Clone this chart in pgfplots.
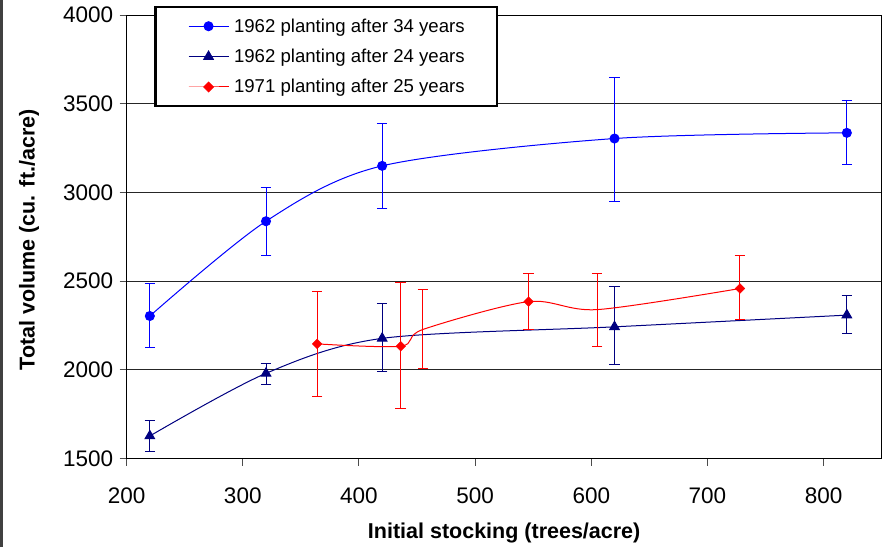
\documentclass[border=0pt]{standalone}
\usepackage{fontspec}
\setmainfont{Liberation Sans}
\usepackage{pgfplots}
\pgfplotsset{compat=1.18}
\usepackage{pgfplotstable}

\definecolor{sblue}{RGB}{0,0,255}
\definecolor{snavy}{RGB}{0,0,128}
\definecolor{sred}{RGB}{255,0,0}

\pgfplotstableread{
x y ep em
220 2304 181 180
320 2838 188 192
420 3150 237 239
620 3304 346 355
820 3336 181 181
}\blueT

\pgfplotstableread{
x y ep em
220 1628 90 89
320 1981 56 62
420 2178 197 188
620 2243 226 211
820 2309 109 105
}\navyT

\pgfplotstableread{
x y ep em
364 2147 293 297
436 2134 359 349
455 2228 223 222
546 2385 156 157
605 2340 201 210
728 2459 184 172
}\redT

\begin{document}
\begin{tikzpicture}
\begin{axis}[
  at={(0pt,0pt)}, anchor=south west,
  scale only axis, width=755.1pt, height=443.7pt,
  xmin=200, xmax=850, ymin=1500, ymax=4000,
  xtick={200,300,...,800}, ytick={1500,2000,...,4000},
  ymajorgrids, grid style={black!85, line width=1pt},
  axis line style={black, line width=1pt},
  tick align=outside, xtick pos=bottom, ytick pos=left,
  major tick length=7pt, tick style={black!70, line width=1pt},
  tick label style={font=\fontsize{22.5}{26}\selectfont},
  xticklabel style={yshift=-18.5pt},
  yticklabel style={xshift=-3pt},
  /pgf/number format/assume math mode=true,
  /pgf/number format/1000 sep={},
  xlabel={Initial stocking (trees/acre)},
  ylabel={Total volume (cu. ft./acre)},
  label style={font=\fontsize{21.5}{25}\selectfont\bfseries},
  xlabel style={at={([yshift=-74.5pt]axis description cs:0.5,0)}, anchor=center},
  ylabel style={at={([xshift=-97.6pt,yshift=-3pt]axis description cs:0,0.5)}, anchor=center},
  legend cell align=left,
  legend image code/.code={\draw[mark repeat=2,mark phase=2,#1] plot coordinates {(0pt,0pt) (20pt,0pt) (40pt,0pt)};},
  legend style={at={(axis description cs:0.0367,1.0203)}, anchor=north west,
    draw=black, line width=2.5pt, fill=white,
    font=\fontsize{18.6}{22}\selectfont,
    inner xsep=32.5pt, inner ysep=11.5pt, row sep=15.4pt,
    nodes={inner sep=0pt},
    /tikz/every odd column/.append style={column sep=5pt}},
  error bars/y dir=both, error bars/y explicit,
]
\addplot[sblue, line width=1pt, smooth, mark=*, mark size=4.5pt,
  error bars/error bar style={line width=1pt, sblue},
  error bars/error mark options={rotate=90, mark size=5.3pt, line width=1pt, sblue}]
  table[x=x, y=y, y error plus=ep, y error minus=em]{\blueT};
\addlegendentry{1962 planting after 34 years}
\addplot[snavy, line width=1pt, smooth, mark=triangle*, mark size=5.5pt,
  error bars/error bar style={line width=1pt, snavy},
  error bars/error mark options={rotate=90, mark size=5.3pt, line width=1pt, snavy}]
  table[x=x, y=y, y error plus=ep, y error minus=em]{\navyT};
\addlegendentry{1962 planting after 24 years}
\addplot[sred, line width=1pt, smooth, mark=none, forget plot,
  error bars/error bar style={line width=1pt, sred},
  error bars/error mark options={rotate=90, mark size=5.3pt, line width=1pt, sred}]
  table[x=x, y=y, y error plus=ep, y error minus=em]{\redT};
\addplot[sred, only marks, mark=square*, mark size=3.4pt, mark options={rotate=45},
  mark indices={1,2,4,6}, forget plot, error bars/y dir=none]
  table[x=x, y=y]{\redT};
\addlegendimage{sred, line width=1pt, mark=square*, mark size=3.4pt, mark options={rotate=45}}
\addlegendentry{1971 planting after 25 years}
\end{axis}
\draw[black!75, line width=3pt] (-125.1pt,-88.3pt) -- (-125.1pt,458.7pt);
\pgfresetboundingbox
\useasboundingbox (-126.6pt,-88.3pt) rectangle (765.4pt,458.7pt);
\end{tikzpicture}
\end{document}
